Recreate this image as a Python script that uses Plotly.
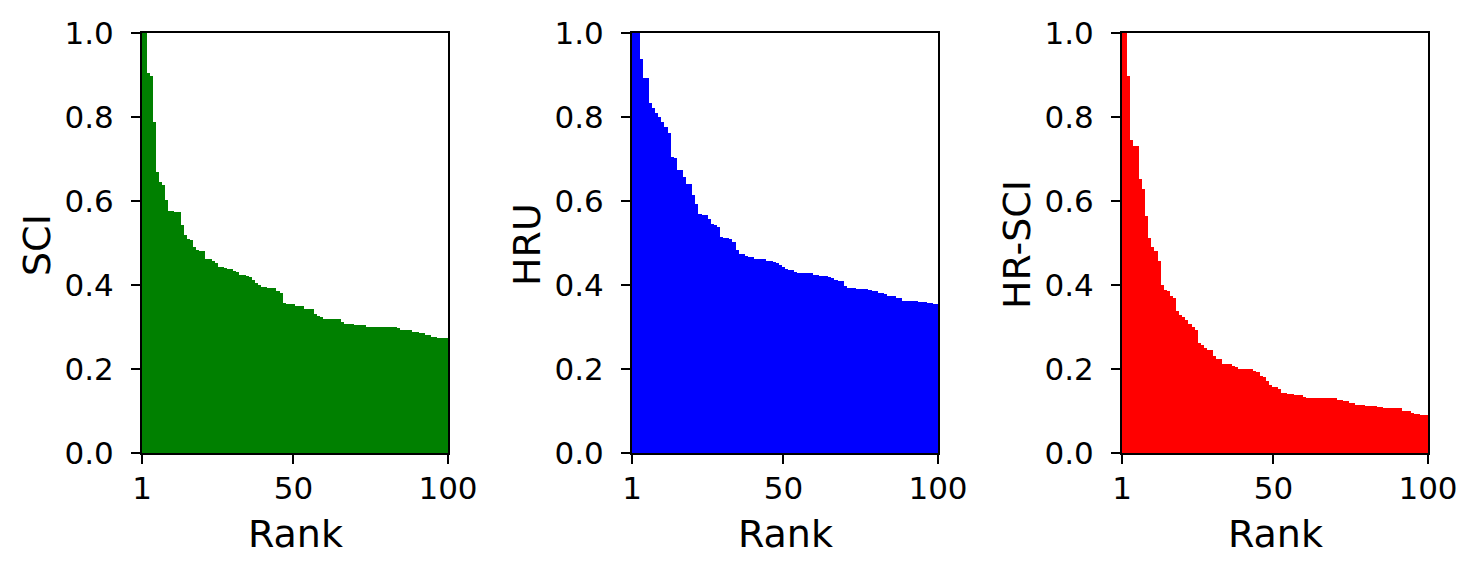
import plotly.graph_objects as go

# rank positions 1..100
ranks = list(range(1, 101))

sci = [1.0, 1.0, 0.905, 0.897, 0.787, 0.670, 0.646, 0.637, 0.603, 0.576,
       0.576, 0.573, 0.573, 0.542, 0.518, 0.510, 0.506, 0.490, 0.483, 0.480,
       0.480, 0.461, 0.461, 0.458, 0.453, 0.444, 0.444, 0.440, 0.437, 0.437,
       0.434, 0.431, 0.423, 0.423, 0.421, 0.418, 0.413, 0.405, 0.401, 0.396,
       0.396, 0.393, 0.392, 0.392, 0.385, 0.382, 0.358, 0.354, 0.354, 0.354,
       0.351, 0.351, 0.351, 0.344, 0.344, 0.344, 0.330, 0.327, 0.323, 0.320,
       0.320, 0.320, 0.320, 0.318, 0.318, 0.313, 0.308, 0.306, 0.306, 0.304,
       0.304, 0.304, 0.304, 0.301, 0.301, 0.301, 0.301, 0.301, 0.299, 0.299,
       0.299, 0.299, 0.299, 0.297, 0.294, 0.294, 0.292, 0.292, 0.289, 0.287,
       0.285, 0.285, 0.280, 0.280, 0.277, 0.277, 0.275, 0.275, 0.275, 0.275]

hru = [1.0, 1.0, 1.0, 0.938, 0.893, 0.893, 0.833, 0.821, 0.809, 0.801,
       0.787, 0.776, 0.763, 0.704, 0.702, 0.673, 0.673, 0.657, 0.640, 0.640,
       0.614, 0.592, 0.568, 0.566, 0.566, 0.556, 0.545, 0.542, 0.537, 0.514,
       0.511, 0.511, 0.509, 0.502, 0.483, 0.475, 0.473, 0.468, 0.466, 0.466,
       0.463, 0.463, 0.463, 0.461, 0.456, 0.456, 0.454, 0.452, 0.447, 0.442,
       0.437, 0.435, 0.435, 0.430, 0.428, 0.428, 0.428, 0.428, 0.428, 0.425,
       0.425, 0.421, 0.421, 0.421, 0.418, 0.416, 0.411, 0.409, 0.409, 0.397,
       0.392, 0.392, 0.392, 0.390, 0.390, 0.390, 0.390, 0.387, 0.385, 0.385,
       0.382, 0.380, 0.378, 0.375, 0.375, 0.373, 0.370, 0.368, 0.363, 0.363,
       0.361, 0.361, 0.361, 0.359, 0.359, 0.359, 0.356, 0.356, 0.354, 0.354]

hr_sci = [1.0, 1.0, 0.897, 0.745, 0.731, 0.731, 0.652, 0.628, 0.564, 0.511,
          0.490, 0.480, 0.456, 0.399, 0.387, 0.385, 0.375, 0.368, 0.337, 0.328,
          0.323, 0.316, 0.308, 0.299, 0.292, 0.261, 0.258, 0.249, 0.246, 0.246,
          0.230, 0.223, 0.223, 0.213, 0.213, 0.211, 0.206, 0.204, 0.201, 0.201,
          0.201, 0.199, 0.199, 0.196, 0.192, 0.184, 0.180, 0.172, 0.163, 0.158,
          0.158, 0.153, 0.144, 0.144, 0.141, 0.141, 0.139, 0.139, 0.137, 0.134,
          0.132, 0.132, 0.132, 0.132, 0.130, 0.130, 0.130, 0.130, 0.130, 0.130,
          0.127, 0.127, 0.125, 0.125, 0.118, 0.118, 0.115, 0.115, 0.115, 0.113,
          0.113, 0.113, 0.113, 0.110, 0.110, 0.108, 0.108, 0.108, 0.108, 0.106,
          0.106, 0.101, 0.099, 0.099, 0.096, 0.094, 0.094, 0.091, 0.091, 0.091]

panels = [("SCI", sci, "#008000"), ("HRU", hru, "#0000ff"), ("HR-SCI", hr_sci, "#ff0000")]

W, H = 1479, 575
OFF = 8  # default page body margin shifts the figure by this much
FONT = "DejaVu Sans"
x_left = [142 - OFF, 632 - OFF, 1122 - OFF]
pw = 306
y_top, y_bot = 33 - OFF, 453 - OFF

fig = go.Figure()
annotations = []
layout = {}
for i, (label, vals, color) in enumerate(panels):
    n = "" if i == 0 else str(i + 1)
    fig.add_trace(go.Bar(x=ranks, y=vals, width=1, marker=dict(color=color, line=dict(width=0)),
                         xaxis="x" + n, yaxis="y" + n, showlegend=False))
    x0 = x_left[i] / W
    x1 = (x_left[i] + pw) / W
    axis_style = dict(showline=True, linecolor="black", linewidth=2, mirror=True,
                      ticks="outside", ticklen=9, tickwidth=2, tickcolor="black",
                      showgrid=False, zeroline=False, automargin=False,
                      tickfont=dict(family=FONT, size=31, color="black"))
    layout["xaxis" + n] = dict(domain=[x0, x1], range=[1, 100], tickvals=[1, 50, 100],
                               anchor="y" + n, ticklabelstandoff=-2, **axis_style)
    layout["yaxis" + n] = dict(domain=[1 - y_bot / H, 1 - y_top / H], range=[0, 1],
                               tickvals=[0, 0.2, 0.4, 0.6, 0.8, 1.0], tickformat=".1f",
                               anchor="x" + n, ticklabelstandoff=11, **axis_style)
    annotations.append(dict(text="Rank", x=(x0 + x1) / 2, y=1 - (534 - OFF) / H, xref="paper",
                            yref="paper", showarrow=False,
                            font=dict(family=FONT, size=38, color="black"),
                            xanchor="center", yanchor="middle"))
    annotations.append(dict(text=label, x=(x_left[i] - 105) / W, y=1 - (245 - OFF) / H,
                            xref="paper", yref="paper", showarrow=False, textangle=-90,
                            font=dict(family=FONT, size=38, color="black"),
                            xanchor="center", yanchor="middle"))

fig.update_layout(width=W, height=H, margin=dict(l=0, r=0, t=0, b=0),
                  paper_bgcolor="white", plot_bgcolor="white", bargap=0,
                  annotations=annotations, **layout)

fig.write_html("out.html")
